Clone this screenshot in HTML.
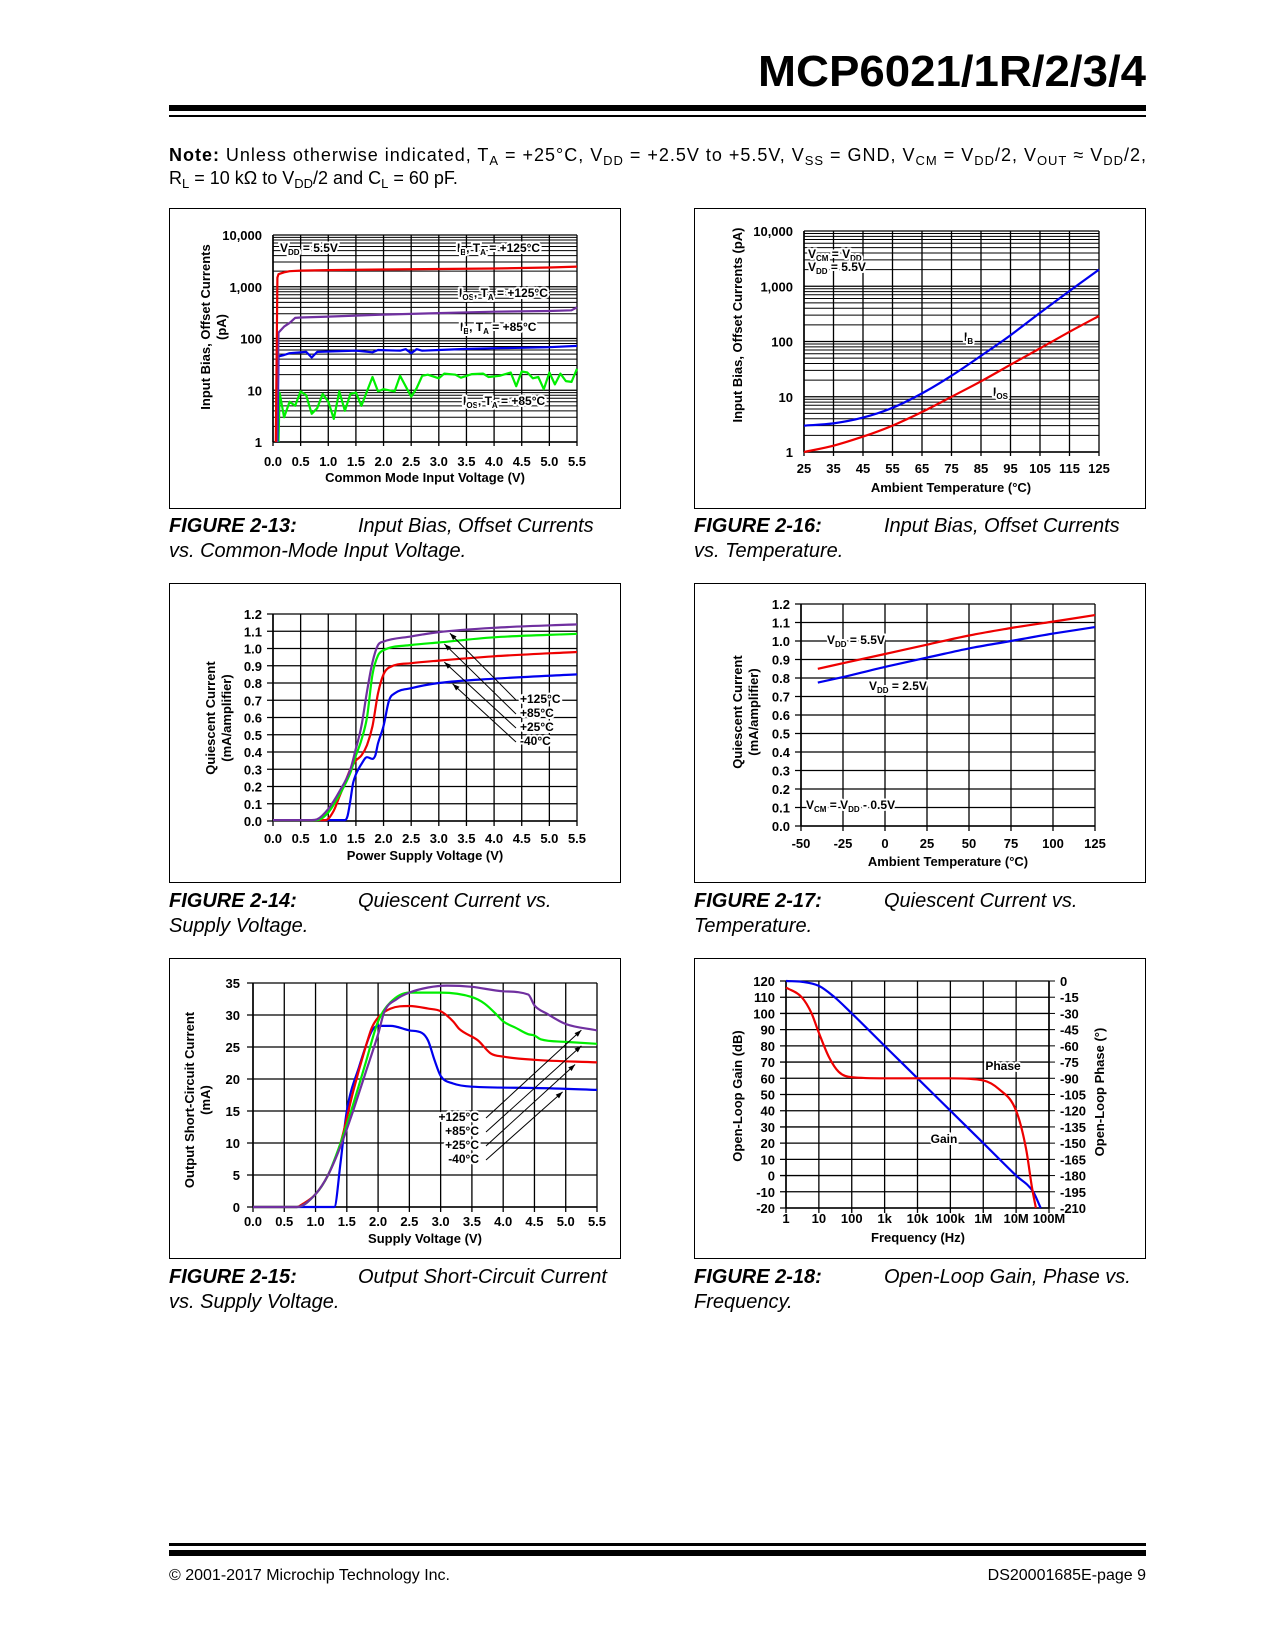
<!DOCTYPE html>
<html><head><meta charset="utf-8"><style>
html,body{margin:0;padding:0;background:#fff}
svg{display:block}
text{font-family:"Liberation Sans",Arial,sans-serif}
.t{font-size:13px;font-weight:bold;fill:#000}
.lab{font-size:12px;font-weight:bold;fill:#000;stroke:#fff;stroke-width:4px;paint-order:stroke;stroke-linejoin:round}
.cap{font-size:20px;font-style:italic}
.capb{font-size:20px;font-style:italic;font-weight:bold}
</style></head><body>
<svg id="pg" xmlns="http://www.w3.org/2000/svg" width="1275" height="1650" viewBox="0 0 1275 1650">
<text x="1146" y="86" text-anchor="end" font-size="44" font-weight="bold" textLength="388" lengthAdjust="spacingAndGlyphs">MCP6021/1R/2/3/4</text>
<rect x="169" y="105" width="977" height="6" fill="#000"/>
<rect x="169" y="115" width="977" height="2" fill="#000"/>
<text x="169" y="161" font-size="18" textLength="977" lengthAdjust="spacing"><tspan font-weight="bold">Note:</tspan> Unless otherwise indicated, T<tspan font-size="13" dy="4">A</tspan><tspan dy="-4"> = +25°C, V</tspan><tspan font-size="13" dy="4">DD</tspan><tspan dy="-4"> = +2.5V to +5.5V, V</tspan><tspan font-size="13" dy="4">SS</tspan><tspan dy="-4"> = GND, V</tspan><tspan font-size="13" dy="4">CM</tspan><tspan dy="-4"> = V</tspan><tspan font-size="13" dy="4">DD</tspan><tspan dy="-4">/2, V</tspan><tspan font-size="13" dy="4">OUT</tspan><tspan dy="-4"> ≈ V</tspan><tspan font-size="13" dy="4">DD</tspan><tspan dy="-4">/2,</tspan></text>
<text x="169" y="184" font-size="18">R<tspan font-size="13" dy="4">L</tspan><tspan dy="-4"> = 10 kΩ to V</tspan><tspan font-size="13" dy="4">DD</tspan><tspan dy="-4">/2 and C</tspan><tspan font-size="13" dy="4">L</tspan><tspan dy="-4"> = 60 pF.</tspan></text>

<rect x="169.5" y="208.5" width="451" height="300" fill="none" stroke="#000"/>
<rect x="694.5" y="208.5" width="451" height="300" fill="none" stroke="#000"/>
<rect x="169.5" y="583.5" width="451" height="299" fill="none" stroke="#000"/>
<rect x="694.5" y="583.5" width="451" height="299" fill="none" stroke="#000"/>
<rect x="169.5" y="958.5" width="451" height="300" fill="none" stroke="#000"/>
<rect x="694.5" y="958.5" width="451" height="300" fill="none" stroke="#000"/>

<g id="charts"></g>

<text x="169" y="532" class="capb">FIGURE 2-13:</text>
<text x="358" y="532" class="cap">Input Bias, Offset Currents</text>
<text x="169" y="557" class="cap">vs. Common-Mode Input Voltage.</text>
<text x="694" y="532" class="capb">FIGURE 2-16:</text>
<text x="884" y="532" class="cap">Input Bias, Offset Currents</text>
<text x="694" y="557" class="cap">vs. Temperature.</text>
<text x="169" y="907" class="capb">FIGURE 2-14:</text>
<text x="358" y="907" class="cap">Quiescent Current vs.</text>
<text x="169" y="932" class="cap">Supply Voltage.</text>
<text x="694" y="907" class="capb">FIGURE 2-17:</text>
<text x="884" y="907" class="cap">Quiescent Current vs.</text>
<text x="694" y="932" class="cap">Temperature.</text>
<text x="169" y="1283" class="capb">FIGURE 2-15:</text>
<text x="358" y="1283" class="cap">Output Short-Circuit Current</text>
<text x="169" y="1308" class="cap">vs. Supply Voltage.</text>
<text x="694" y="1283" class="capb">FIGURE 2-18:</text>
<text x="884" y="1283" class="cap">Open-Loop Gain, Phase vs.</text>
<text x="694" y="1308" class="cap">Frequency.</text>

<rect x="169" y="1543" width="977" height="3" fill="#000"/>
<rect x="169" y="1550" width="977" height="6" fill="#000"/>
<text x="169" y="1580" font-size="16">© 2001-2017 Microchip Technology Inc.</text>
<text x="1146" y="1580" font-size="16" text-anchor="end">DS20001685E-page 9</text>

<g id="labels">
<text x="280" y="252" class="lab">V<tspan font-size="8" dy="3">DD</tspan><tspan dy="-3"> = 5.5V</tspan></text>
<text x="457" y="252" class="lab">I<tspan font-size="8" dy="3">B</tspan><tspan dy="-3">, T</tspan><tspan font-size="8" dy="3">A</tspan><tspan dy="-3"> = +125°C</tspan></text>
<text x="459" y="297" class="lab">I<tspan font-size="8" dy="3">OS</tspan><tspan dy="-3">, T</tspan><tspan font-size="8" dy="3">A</tspan><tspan dy="-3"> = +125°C</tspan></text>
<text x="460" y="331" class="lab">I<tspan font-size="8" dy="3">B</tspan><tspan dy="-3">, T</tspan><tspan font-size="8" dy="3">A</tspan><tspan dy="-3"> = +85°C</tspan></text>
<text x="463" y="405" class="lab">I<tspan font-size="8" dy="3">OS</tspan><tspan dy="-3">, T</tspan><tspan font-size="8" dy="3">A</tspan><tspan dy="-3"> = +85°C</tspan></text>

<text x="808" y="258" class="lab">V<tspan font-size="8" dy="3">CM</tspan><tspan dy="-3"> = V</tspan><tspan font-size="8" dy="3">DD</tspan></text>
<text x="808" y="271" class="lab">V<tspan font-size="8" dy="3">DD</tspan><tspan dy="-3"> = 5.5V</tspan></text>
<text x="964" y="341" class="lab">I<tspan font-size="8" dy="3">B</tspan></text>
<text x="993" y="396" class="lab">I<tspan font-size="8" dy="3">OS</tspan></text>

<text x="520" y="703" class="lab">+125°C</text>
<text x="520" y="717" class="lab">+85°C</text>
<text x="520" y="731" class="lab">+25°C</text>
<text x="520" y="745" class="lab">-40°C</text>

<text x="827" y="644" class="lab">V<tspan font-size="8" dy="3">DD</tspan><tspan dy="-3"> = 5.5V</tspan></text>
<text x="869" y="690" class="lab">V<tspan font-size="8" dy="3">DD</tspan><tspan dy="-3"> = 2.5V</tspan></text>
<text x="806" y="809" class="lab">V<tspan font-size="8" dy="3">CM</tspan><tspan dy="-3"> = V</tspan><tspan font-size="8" dy="3">DD</tspan><tspan dy="-3"> - 0.5V</tspan></text>

<text x="479" y="1121" class="lab" text-anchor="end">+125°C</text>
<text x="479" y="1135" class="lab" text-anchor="end">+85°C</text>
<text x="479" y="1149" class="lab" text-anchor="end">+25°C</text>
<text x="479" y="1163" class="lab" text-anchor="end">-40°C</text>

<text x="1003" y="1070" class="lab" text-anchor="middle">Phase</text>
<text x="944" y="1143" class="lab" text-anchor="middle">Gain</text>
</g>
</svg>
<script>
// ---- Fig 2-13 data ----
const f13_ib125_x=[0.05,0.08,0.1,0.2,0.3,0.5,1,2,3,4,5,5.5];
const f13_ib125_y=[1,1500,1750,1900,2000,2050,2100,2150,2200,2250,2350,2450];
const f13_ios125_x=[0.07,0.1,0.2,0.3,0.4,0.5,1,2,3,4,5,5.4,5.5];
const f13_ios125_y=[1,130,170,200,250,255,265,290,310,330,340,350,400];
const f13_ib85_x=[0.08,0.1,0.2,0.3,0.6,0.7,0.8,1.5,1.8,1.9,2.3,2.4,2.5,2.6,2.7,3,3.5,4,4.5,5,5.5];
const f13_ib85_y=[1,45,48,52,55,43,55,58,54,60,58,62,52,62,58,60,63,65,66,68,72];
const f13_ios85_x=[0.1,0.12,0.2,0.3,0.4,0.5,0.6,0.7,0.8,0.9,1.0,1.1,1.2,1.3,1.4,1.5,1.6,1.8,1.9,2.0,2.2,2.3,2.5,2.6,2.7,2.8,3.0,3.1,3.3,3.4,3.6,3.8,3.9,4.1,4.3,4.4,4.5,4.6,4.7,4.8,4.9,5.0,5.1,5.2,5.3,5.4,5.5];
const f13_ios85_y=[1,9,3,6,5,9.5,8,3.5,4.5,8.5,6,2.8,9.5,4,8.5,9,5,18,9.5,10.5,9.5,19,7.5,11,19,20,17,21,20,17.5,20.5,21,18,19,22,12,23,22,17,18,10.5,22,13,21,15,14.5,26];
const f13_xticks=["0.0","0.5","1.0","1.5","2.0","2.5","3.0","3.5","4.0","4.5","5.0","5.5"];
const f13_yticks=["1","10","100","1,000","10,000"];
// ---- Fig 2-16 data ----
const f16_temp=[25,35,45,55,65,75,85,95,105,115,125];
const f16_ib=[3,3.3,4.2,6.3,11.5,24,55,130,330,820,2000];
const f16_ios=[1,1.3,1.9,3,5.3,10,19,38,75,150,290];
const f16_xticks=["25","35","45","55","65","75","85","95","105","115","125"];
const f16_yticks=["1","10","100","1,000","10,000"];
// ---- Fig 2-14 data ----
const f14_p125_x=[0,0.7,0.8,1.0,1.2,1.4,1.5,1.6,1.7,1.8,1.9,2.0,2.5,3,4,5.5];
const f14_p125_y=[0.005,0.005,0.01,0.07,0.17,0.3,0.42,0.55,0.75,0.92,1.02,1.04,1.07,1.095,1.12,1.14];
const f14_p85_x=[0,0.8,1.0,1.2,1.4,1.5,1.6,1.7,1.8,1.9,2.0,2.5,3,4,5.5];
const f14_p85_y=[0.005,0.005,0.05,0.15,0.28,0.38,0.47,0.6,0.85,0.96,0.99,1.02,1.035,1.065,1.085];
const f14_p25_x=[0,0.95,1.1,1.2,1.3,1.4,1.5,1.6,1.7,1.8,1.9,2.0,2.1,2.5,3,4,5.5];
const f14_p25_y=[0.005,0.005,0.06,0.14,0.22,0.3,0.35,0.38,0.44,0.55,0.74,0.85,0.89,0.915,0.93,0.955,0.98];
const f14_m40_x=[0,1.3,1.35,1.4,1.45,1.5,1.6,1.7,1.8,1.85,1.9,2.0,2.1,2.2,2.5,3,4,5.5];
const f14_m40_y=[0.005,0.005,0.03,0.12,0.22,0.27,0.33,0.37,0.36,0.38,0.45,0.55,0.7,0.74,0.77,0.8,0.825,0.85];
const f14_xticks=["0.0","0.5","1.0","1.5","2.0","2.5","3.0","3.5","4.0","4.5","5.0","5.5"];
const f14_yticks=["0.0","0.1","0.2","0.3","0.4","0.5","0.6","0.7","0.8","0.9","1.0","1.1","1.2"];
// ---- Fig 2-17 data ----
const f17_temp=[-40,-25,0,25,50,75,100,125];
const f17_vdd55=[0.85,0.88,0.93,0.98,1.03,1.07,1.105,1.14];
const f17_vdd25=[0.775,0.805,0.86,0.91,0.96,1.0,1.04,1.075];
const f17_xticks=["-50","-25","0","25","50","75","100","125"];
const f17_yticks=["0.0","0.1","0.2","0.3","0.4","0.5","0.6","0.7","0.8","0.9","1.0","1.1","1.2"];
// ---- Fig 2-15 data ----
const f15_m40_x=[0,1.3,1.4,1.5,1.7,1.9,2.0,2.2,2.5,2.7,2.8,2.9,3.0,3.2,3.5,4.5,5.5];
const f15_m40_y=[0,0,7,15,22,27.5,28.3,28.3,27.6,27.2,26,23,20.5,19.3,18.8,18.6,18.3];
const f15_p25_x=[0,0.7,0.8,1.0,1.2,1.4,1.6,1.8,1.9,2.0,2.2,2.5,2.8,3.0,3.2,3.3,3.6,3.8,4.0,4.5,5.5];
const f15_p25_y=[0,0,0.5,2,5,10,18,25,28,29.6,31,31.4,31,30.6,29,27.8,26,24,23.5,23,22.6];
const f15_p85_x=[0,0.7,1,1.2,1.4,1.6,1.8,2.0,2.2,2.5,3.0,3.5,3.7,3.9,4.0,4.2,4.4,4.5,4.6,5.0,5.5];
const f15_p85_y=[0,0,2,5,10,16,22.5,29,32,33.5,33.5,32.8,31.8,30,29,28,27,26.8,26.2,25.8,25.5];
const f15_p125_x=[0,0.7,1,1.2,1.4,1.6,1.8,2.0,2.1,2.3,2.5,2.8,3.1,3.5,4.0,4.4,4.5,4.7,5.0,5.5];
const f15_p125_y=[0,0,2,5,9.5,15,21,27,30.5,32.5,33.5,34.3,34.6,34.4,33.7,33.2,31.5,30.2,28.6,27.6];
const f15_xticks=["0.0","0.5","1.0","1.5","2.0","2.5","3.0","3.5","4.0","4.5","5.0","5.5"];
const f15_yticks=["0","5","10","15","20","25","30","35"];
// ---- Fig 2-18 data ----
const f18_gain_f=[1,3,10,30,100,1e3,1e4,1e5,1e6,1e7,3.3e7,5.6e7];
const f18_gain_db=[120,119.5,117,110,100,80,60,40,20,0,-10,-20];
const f18_phase_f=[1,3,6,10,20,40,100,1e3,1e5,1e6,3e6,1e7,2e7,3e7,4e7];
const f18_phase_deg=[-6,-15,-30,-48,-70,-84,-89,-90,-90,-92,-100,-120,-155,-190,-210];
const f18_xticks=["1","10","100","1k","10k","100k","1M","10M","100M"];
const f18_yticks=["-20","-10","0","10","20","30","40","50","60","70","80","90","100","110","120"];
const f18_y2ticks=["-210","-195","-180","-165","-150","-135","-120","-105","-90","-75","-60","-45","-30","-15","0"];

const NS="http://www.w3.org/2000/svg";
const G=document.getElementById('charts');
function el(tag,attrs,parent){const e=document.createElementNS(NS,tag);for(const k in attrs)e.setAttribute(k,attrs[k]);(parent||G).appendChild(e);return e;}
function num(s){return parseFloat(String(s).replace(/,/g,''));}
function scale(d0,d1,p0,p1,log){if(log){const a=Math.log10(d0),b=Math.log10(d1);return v=>p0+(Math.log10(v)-a)/(b-a)*(p1-p0);}return v=>p0+(v-d0)/(d1-d0)*(p1-p0);}
// monotone cubic (Fritsch-Carlson) in pixel space
function smoothPath(P){const n=P.length;if(n<3)return linePath(P);
 const dx=[],s=[];for(let i=0;i<n-1;i++){dx.push(P[i+1][0]-P[i][0]);s.push((P[i+1][1]-P[i][1])/(dx[i]||1e-6));}
 const m=[s[0]];for(let i=1;i<n-1;i++){m.push(s[i-1]*s[i]<=0?0:(s[i-1]+s[i])/2);}m.push(s[n-2]);
 for(let i=0;i<n-1;i++){if(s[i]===0){m[i]=0;m[i+1]=0;continue;}const a=m[i]/s[i],b=m[i+1]/s[i],h=a*a+b*b;if(h>9){const t=3/Math.sqrt(h);m[i]=t*a*s[i];m[i+1]=t*b*s[i];}}
 let d='M'+P[0][0].toFixed(1)+','+P[0][1].toFixed(1);
 for(let i=0;i<n-1;i++){const h=dx[i]/3;
  d+='C'+(P[i][0]+h).toFixed(1)+','+(P[i][1]+m[i]*h).toFixed(1)+' '+(P[i+1][0]-h).toFixed(1)+','+(P[i+1][1]-m[i+1]*h).toFixed(1)+' '+P[i+1][0].toFixed(1)+','+P[i+1][1].toFixed(1);}
 return d;}
function linePath(pts){return 'M'+pts.map(p=>p[0].toFixed(1)+','+p[1].toFixed(1)).join('L');}
function series(name,sx,sy,xs,ys,color,smooth){
 const pts=xs.map((x,i)=>[sx(x),sy(ys[i])]);
 const p=el('path',{d:smooth?smoothPath(pts):linePath(pts),fill:'none',stroke:color,'stroke-width':2.2,'stroke-linejoin':'round'});
 
 
}
function txt(s,x,y,anchor,name,rot){
 const t=el('text',{x:x,y:y,'text-anchor':anchor,class:'t'});t.textContent=s;
 if(rot)t.setAttribute('transform','rotate(-90 '+x+' '+y+')');
 
 
 return t;}
function gline(x1,y1,x2,y2,w,name){const l=el('line',{x1:x1,y1:y1,x2:x2,y2:y2,stroke:'#000','stroke-width':w||1});
 
 return l;}

function frame(c){
 const sx=scale(c.xd[0],c.xd[1],c.L,c.R,c.xlog), sy=scale(c.yd[0],c.yd[1],c.B,c.T,c.ylog);
 if(c.ylog){for(let d=c.yd[0];d<c.yd[1];d*=10){for(let m=1;m<10;m++){const y=sy(d*m);gline(c.L,y,c.R,y,m==1?1.3:1,'h-grid');}}gline(c.L,c.T,c.R,c.T,1.3,'h-grid');}
 else{c.yt.forEach(s=>{const y=sy(num(s));gline(c.L-(c.tk||0),y,c.R,y,1.3,'h-grid');});}
 c.xv.forEach(v=>{const x=sx(v);gline(x,c.T,x,c.B+(c.tkx||0),1.3,'v-grid');});
 gline(c.L,c.T,c.L,c.B,1.6,'y-axis-line');gline(c.L,c.B,c.R,c.B,1.6,'x-axis-line');
 c.xl.forEach((s,i)=>txt(s,sx(c.xv[i]),c.xlY,'middle','x-tick-label'));
 c.yt.forEach(s=>txt(s,c.L-(c.ylOff||11),sy(num(s))+5,'end','y-tick-label'));
 return [sx,sy];
}
function arrow(x1,y1,x2,y2,name){
 gline(x1,y1,x2,y2,1,name);
 const a=Math.atan2(y2-y1,x2-x1),L=7,w=2.5;
 const p=[[x2,y2],[x2-L*Math.cos(a)+w*Math.sin(a),y2-L*Math.sin(a)-w*Math.cos(a)],[x2-L*Math.cos(a)-w*Math.sin(a),y2-L*Math.sin(a)+w*Math.cos(a)]];
 const h=el('polygon',{points:p.map(q=>q.join(',')).join(' '),fill:'#000'});
 
 
}
function interp(xs,ys,x){for(let i=0;i<xs.length-1;i++){if(x>=xs[i]&&x<=xs[i+1])return ys[i]+(ys[i+1]-ys[i])*(x-xs[i])/(xs[i+1]-xs[i]);}return ys[ys.length-1];}

(function(){
 const xv=f13_xticks.map(num);
 const [sx,sy]=frame({L:273,R:577,T:235,B:442,xd:[0,5.5],yd:[1,10000],ylog:true,xv:xv,xl:f13_xticks,xlY:466,yt:f13_yticks,tkx:4});
 series('ios-85-line',sx,sy,f13_ios85_x,f13_ios85_y,'#00ee00',false);
 series('ib-85-line',sx,sy,f13_ib85_x,f13_ib85_y,'#0000ee',false);
 series('ios-125-line',sx,sy,f13_ios125_x,f13_ios125_y,'#7030a0',false);
 series('ib-125-line',sx,sy,f13_ib125_x,f13_ib125_y,'#ee0000',false);
 txt('Common Mode Input Voltage (V)',425,482,'middle','x-axis-title-2-13');
 txt('Input Bias, Offset Currents',210,327,'middle','y-axis-title-2-13',true);
 txt('(pA)',226,327,'middle','y-axis-title-2-13-unit',true);
})();
(function(){
 const xv=f16_xticks.map(num);
 const [sx,sy]=frame({L:804,R:1099,T:231,B:452,xd:[25,125],yd:[1,10000],ylog:true,xv:xv,xl:f16_xticks,xlY:473,yt:f16_yticks,tkx:4});
 series('ib-vs-temp-line',sx,sy,f16_temp,f16_ib,'#0000ee',true);
 series('ios-vs-temp-line',sx,sy,f16_temp,f16_ios,'#ee0000',true);
 txt('Ambient Temperature (°C)',951,492,'middle','x-axis-title-2-16');
 txt('Input Bias, Offset Currents (pA)',742,325,'middle','y-axis-title-2-16',true);
})();
(function(){
 const xv=f14_xticks.map(num);
 const [sx,sy]=frame({L:273,R:577,T:614,B:821,xd:[0,5.5],yd:[0,1.2],xv:xv,xl:f14_xticks,xlY:843,yt:f14_yticks,tk:6,tkx:5});
 series('iq-m40-line',sx,sy,f14_m40_x,f14_m40_y,'#0000ee',true);
 series('iq-25-line',sx,sy,f14_p25_x,f14_p25_y,'#ee0000',true);
 series('iq-85-line',sx,sy,f14_p85_x,f14_p85_y,'#00ee00',true);
 series('iq-125-line',sx,sy,f14_p125_x,f14_p125_y,'#7030a0',true);
 const sets=[[f14_p125_x,f14_p125_y,3.2,700],[f14_p85_x,f14_p85_y,3.1,714],[f14_p25_x,f14_p25_y,3.1,728],[f14_m40_x,f14_m40_y,3.25,742]];
 const nm=['arrow-125','arrow-85','arrow-25','arrow-m40'];
 sets.forEach((s,i)=>arrow(516,s[3],sx(s[2]),sy(interp(s[0],s[1],s[2]))+2,nm[i]));
 txt('Power Supply Voltage (V)',425,860,'middle','x-axis-title-2-14');
 txt('Quiescent Current',215,718,'middle','y-axis-title-2-14',true);
 txt('(mA/amplifier)',231,718,'middle','y-axis-title-2-14-unit',true);
})();
(function(){
 const xv=f17_xticks.map(num);
 const [sx,sy]=frame({L:801,R:1095,T:604,B:826,xd:[-50,125],yd:[0,1.2],xv:xv,xl:f17_xticks,xlY:848,yt:f17_yticks,tk:6,tkx:5});
 series('iq-vdd55-line',sx,sy,f17_temp,f17_vdd55,'#ee0000',true);
 series('iq-vdd25-line',sx,sy,f17_temp,f17_vdd25,'#0000ee',true);
 txt('Ambient Temperature (°C)',948,866,'middle','x-axis-title-2-17');
 txt('Quiescent Current',742,712,'middle','y-axis-title-2-17',true);
 txt('(mA/amplifier)',758,712,'middle','y-axis-title-2-17-unit',true);
})();
(function(){
 const xv=f15_xticks.map(num);
 const [sx,sy]=frame({L:253,R:597,T:983,B:1207,xd:[0,5.5],yd:[0,35],xv:xv,xl:f15_xticks,xlY:1226,yt:f15_yticks,tk:6,tkx:5,ylOff:13});
 series('isc-m40-line',sx,sy,f15_m40_x,f15_m40_y,'#0000ee',true);
 series('isc-25-line',sx,sy,f15_p25_x,f15_p25_y,'#ee0000',true);
 series('isc-85-line',sx,sy,f15_p85_x,f15_p85_y,'#00ee00',true);
 series('isc-125-line',sx,sy,f15_p125_x,f15_p125_y,'#7030a0',true);
 const sets=[[f15_p125_x,f15_p125_y,5.25,1118],[f15_p85_x,f15_p85_y,5.25,1132],[f15_p25_x,f15_p25_y,5.15,1146],[f15_m40_x,f15_m40_y,4.95,1160]];
 const nm=['arrow-125-isc','arrow-85-isc','arrow-25-isc','arrow-m40-isc'];
 sets.forEach((s,i)=>arrow(486,s[3],sx(s[2]),sy(interp(s[0],s[1],s[2]))+3,nm[i]));
 txt('Supply Voltage (V)',425,1243,'middle','x-axis-title-2-15');
 txt('Output Short-Circuit Current',194,1100,'middle','y-axis-title-2-15',true);
 txt('(mA)',210,1100,'middle','y-axis-title-2-15-unit',true);
})();
(function(){
 const xv=f18_xticks.map((s,i)=>Math.pow(10,i));
 const [sx,sy]=frame({L:786,R:1049,T:981,B:1208,xd:[1,1e8],xlog:true,yd:[-20,120],xv:xv,xl:f18_xticks,xlY:1223,yt:f18_yticks,tk:6,tkx:5});
 const sy2=scale(-210,0,1208,981,false);
 f18_y2ticks.forEach(s=>{const y=sy2(num(s));gline(1049,y,1055,y,1,'y2-tick');txt(s,1060,y+5,'start','y2-tick-label');});
 gline(1049,981,1049,1208,1.6,'y2-axis-line');
 series('open-loop-gain-line',sx,sy,f18_gain_f,f18_gain_db,'#0000ee',true);
 series('phase-line',sx,sy2,f18_phase_f,f18_phase_deg,'#ee0000',true);
 txt('Frequency (Hz)',918,1242,'middle','x-axis-title-2-18');
 txt('Open-Loop Gain (dB)',742,1096,'middle','y-axis-title-2-18',true);
 txt('Open-Loop Phase (°)',1104,1092,'middle','y2-axis-title-2-18',true);
})();
document.getElementById('pg').appendChild(document.getElementById('labels'));
</script>
</body></html>
